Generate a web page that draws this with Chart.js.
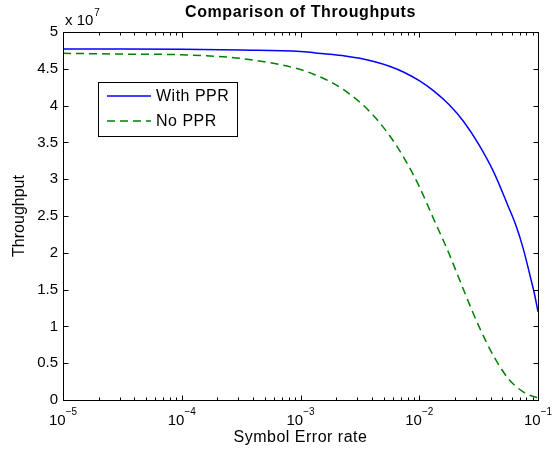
<!DOCTYPE html>
<html>
<head>
<meta charset="utf-8">
<script src="https://cdn.jsdelivr.net/npm/chart.js@4/dist/chart.umd.min.js"></script>
<style>
  html, body { margin: 0; padding: 0; background: #fff; }
  #wrap { width: 554px; height: 455px; }
</style>
</head>
<body>
<div id="wrap"><canvas id="c" width="554" height="455"></canvas></div>
<script>
// ---- Data ----
const symbolErrorRates = [1e-5, 3.16e-5, 1e-4, 3.16e-4, 1e-3, 1.33e-3, 1.78e-3, 2.37e-3,
                          3.16e-3, 4.22e-3, 5.62e-3, 7.5e-3, 1e-2, 1.33e-2, 1.78e-2, 2.37e-2,
                          3.16e-2, 4.22e-2, 5.62e-2, 6.49e-2, 7.5e-2, 8.66e-2, 9.31e-2, 1e-1];
const throughputWithPPR = [4.77e7, 4.77e7, 4.765e7, 4.755e7, 4.735e7, 4.716e7, 4.698e7, 4.675e7,
                           4.642e7, 4.596e7, 4.535e7, 4.45e7, 4.338e7, 4.197e7, 4.014e7, 3.781e7,
                           3.477e7, 3.103e7, 2.63e7, 2.38e7, 2.06e7, 1.66e7, 1.45e7, 1.2e7];
const throughputNoPPR = [4.71e7, 4.70e7, 4.69e7, 4.64e7, 4.49e7, 4.417e7, 4.325e7, 4.203e7,
                         4.046e7, 3.845e7, 3.593e7, 3.28e7, 2.90e7, 2.45e7, 1.99e7, 1.49e7,
                         1.01e7, 0.60e7, 0.29e7, 0.188e7, 0.11e7, 0.061e7, 0.043e7, 0.03e7];
const seriesLabels = ['With PPR', 'No PPR'];
const xTickExponents = [-5, -4, -3, -2, -1];
const yTickLabels = ['0', '0.5', '1', '1.5', '2', '2.5', '3', '3.5', '4', '4.5', '5'];
const chartTitle = 'Comparison of Throughputs';
const xAxisTitle = 'Symbol Error rate';
const yAxisTitle = 'Throughput';
const yMultiplierBase = 'x 10';
const yMultiplierExp = '7';

const FONT = '"Liberation Sans", Arial, Helvetica, sans-serif';

function toPoints(xs, ys) { return xs.map((x, i) => ({ x: x, y: ys[i] })); }

function setSpacing(ctx, s) { if ('letterSpacing' in ctx) ctx.letterSpacing = s; }

const matlabPlugin = {
  id: 'matlab',
  afterDraw(chart) {
    const ctx = chart.ctx;
    const ca = chart.chartArea;
    const xs = chart.scales.x, ys = chart.scales.y;
    const L = Math.round(ca.left) + 0.5, R = Math.round(ca.right) + 0.5;
    const T = Math.round(ca.top) + 0.5, B = Math.round(ca.bottom) + 0.5;
    ctx.save();
    ctx.strokeStyle = '#000';
    ctx.lineWidth = 1;
    ctx.strokeRect(L, T, R - L, B - T);
    ctx.beginPath();
    ys.ticks.forEach(t => {
      const py = Math.round(ys.getPixelForValue(t.value)) + 0.5;
      ctx.moveTo(L, py); ctx.lineTo(L + 5, py);
      ctx.moveTo(R, py); ctx.lineTo(R - 5, py);
    });
    xTickExponents.forEach(e => {
      for (let k = 1; k <= 9; k++) {
        const v = k * Math.pow(10, e);
        if (v > xs.max * 1.0001) break;
        const px = Math.round(xs.getPixelForValue(v)) + 0.5;
        const len = k === 1 ? 5 : 3;
        ctx.moveTo(px, B); ctx.lineTo(px, B - len);
        ctx.moveTo(px, T); ctx.lineTo(px, T + len);
      }
    });
    ctx.stroke();

    ctx.fillStyle = '#000';
    // x tick labels 10^e
    xTickExponents.forEach(e => {
      const v = Math.pow(10, e);
      const px = xs.getPixelForValue(v);
      ctx.font = '15px ' + FONT;
      const base = '10';
      const wb = ctx.measureText(base).width;
      ctx.font = '10px ' + FONT;
      const expTxt = '\u2212' + Math.abs(e);
      const we = ctx.measureText(expTxt).width;
      const x0 = px - (wb + we) / 2;
      ctx.textAlign = 'left';
      ctx.textBaseline = 'alphabetic';
      ctx.font = '15px ' + FONT;
      ctx.fillText(base, x0, 425);
      ctx.font = '10px ' + FONT;
      ctx.fillText(expTxt, x0 + wb, 415);
    });

    // title
    ctx.font = 'bold 16px ' + FONT;
    setSpacing(ctx, '0.6px');
    ctx.textAlign = 'center';
    ctx.fillText(chartTitle, (ca.left + ca.right) / 2, 17);
    setSpacing(ctx, '0px');

    // multiplier
    ctx.textAlign = 'left';
    ctx.font = '15px ' + FONT;
    ctx.fillText(yMultiplierBase, 65, 25);
    const wm = ctx.measureText(yMultiplierBase).width;
    ctx.font = '10px ' + FONT;
    ctx.fillText(yMultiplierExp, 65 + wm + 1, 16);

    // x axis title
    ctx.font = '16px ' + FONT;
    setSpacing(ctx, '0.5px');
    ctx.textAlign = 'center';
    ctx.fillText(xAxisTitle, (ca.left + ca.right) / 2, 442);
    setSpacing(ctx, '0px');

    // y axis title
    ctx.save();
    ctx.translate(24, (ca.top + ca.bottom) / 2);
    ctx.rotate(-Math.PI / 2);
    ctx.textAlign = 'center';
    ctx.font = '16px ' + FONT;
    ctx.fillText(yAxisTitle, 0, 0);
    ctx.restore();

    // legend
    const lx = 98.5, ly = 82.5, lw = 139, lh = 54;
    ctx.fillStyle = '#fff';
    ctx.fillRect(lx, ly, lw, lh);
    ctx.strokeStyle = '#000';
    ctx.lineWidth = 1;
    ctx.strokeRect(lx, ly, lw, lh);
    chart.data.datasets.forEach((ds, i) => {
      const yy = 96 + i * 25;
      ctx.beginPath();
      ctx.strokeStyle = ds.borderColor;
      ctx.lineWidth = ds.borderWidth;
      ctx.setLineDash(ds.borderDash || []);
      ctx.moveTo(107, yy); ctx.lineTo(151, yy);
      ctx.stroke();
      ctx.setLineDash([]);
      ctx.fillStyle = '#000';
      ctx.font = '16px ' + FONT;
      setSpacing(ctx, '0.5px');
      ctx.textAlign = 'left';
      ctx.textBaseline = 'middle';
      ctx.fillText(ds.label, 156, yy + 1);
      setSpacing(ctx, '0px');
    });
    ctx.restore();
  }
};

new Chart(document.getElementById('c'), {
  type: 'line',
  data: {
    datasets: [
      {
        label: seriesLabels[0],
        data: toPoints(symbolErrorRates, throughputWithPPR),
        borderColor: '#0000ff',
        borderWidth: 1.5,
        pointRadius: 0,
        fill: false,
        cubicInterpolationMode: 'monotone'
      },
      {
        label: seriesLabels[1],
        data: toPoints(symbolErrorRates, throughputNoPPR),
        borderColor: '#008000',
        borderWidth: 1.5,
        borderDash: [8, 5],
        pointRadius: 0,
        fill: false,
        cubicInterpolationMode: 'monotone'
      }
    ]
  },
  options: {
    responsive: false,
    devicePixelRatio: 1,
    animation: false,
    layout: { padding: { top: 32, right: 16, left: 0, bottom: 0 } },
    plugins: { legend: { display: false }, title: { display: false }, tooltip: { enabled: false } },
    scales: {
      x: {
        type: 'logarithmic',
        min: 1e-5,
        max: 1e-1,
        grid: { display: false },
        border: { display: false },
        ticks: { display: false },
        afterFit(scale) { scale.height = 55; }
      },
      y: {
        type: 'linear',
        min: 0,
        max: 5e7,
        grid: { display: false, drawTicks: false },
        border: { display: false },
        ticks: {
          stepSize: 5e6,
          padding: 5,
          color: '#000',
          font: { family: FONT, size: 15 },
          callback: (v, i) => yTickLabels[Math.round(v / 5e6)]
        },
        afterFit(scale) { scale.width = 63; }
      }
    }
  },
  plugins: [matlabPlugin]
});
</script>
</body>
</html>
